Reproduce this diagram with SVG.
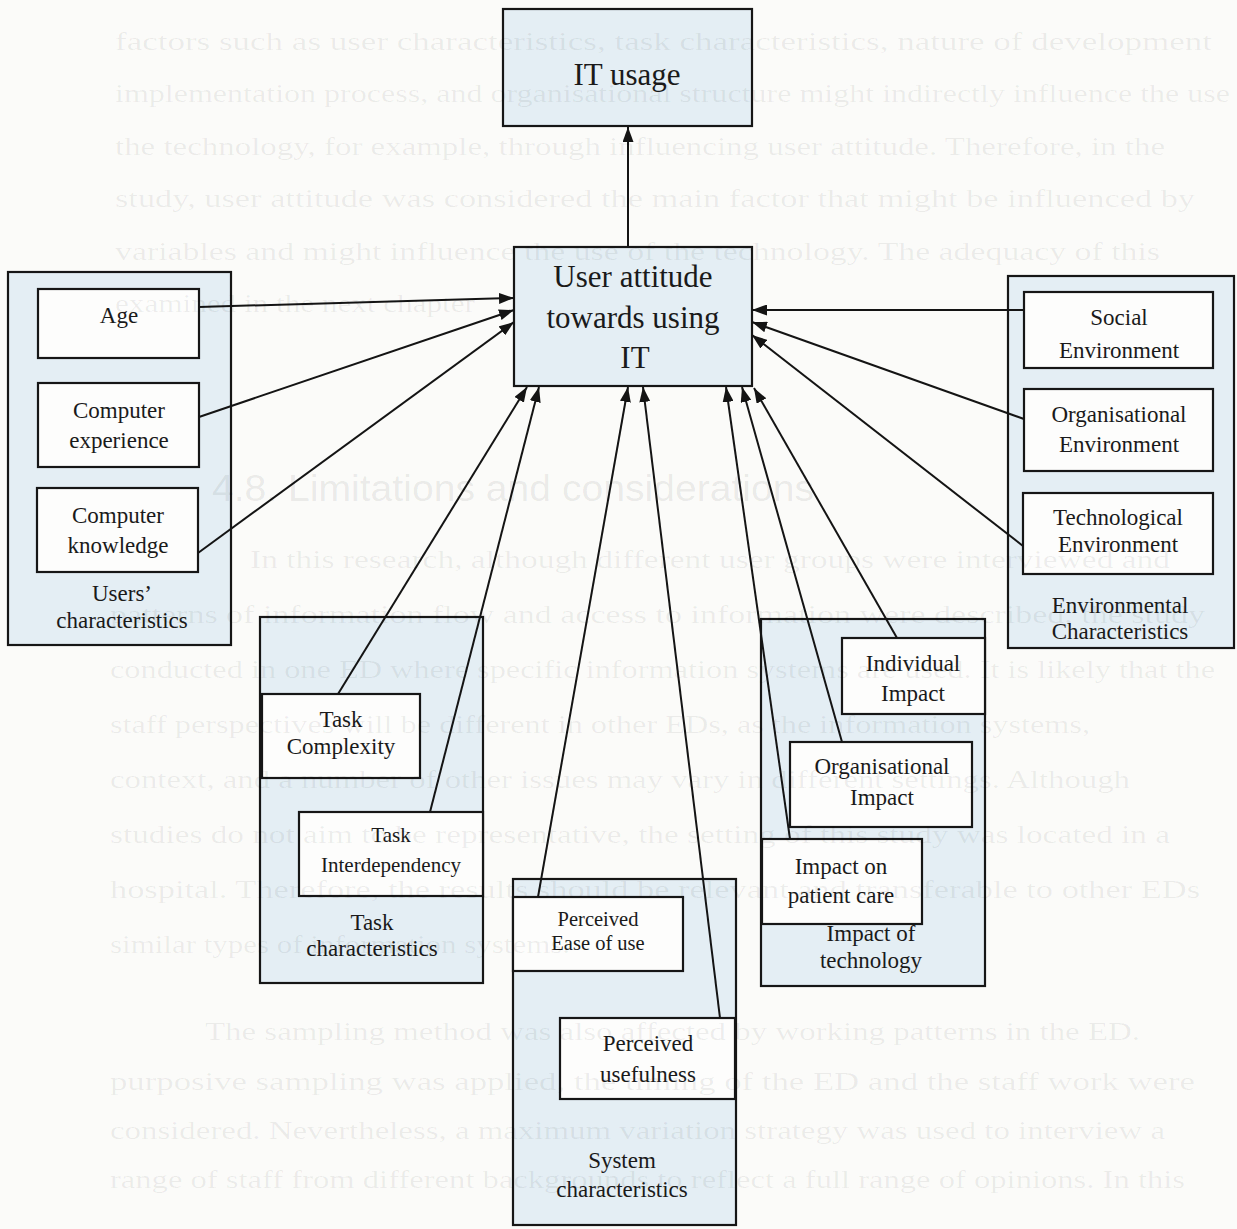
<svg xmlns="http://www.w3.org/2000/svg" width="1237" height="1229" viewBox="0 0 1237 1229">
<style>
.bg{fill:#fbfbf9}
.grp{fill:#e4eef4;stroke:#161616;stroke-width:2.2}
.box{fill:#fdfdfc;stroke:#161616;stroke-width:2.2}
.bbox{fill:#e4eef4;stroke:#161616;stroke-width:2.2}
.t{font-family:"Liberation Serif","Times New Roman",serif;font-size:23px;fill:#1a1a1a;text-anchor:middle}
.big{font-size:31px}
.sm{font-size:20.5px}
.tid{font-size:21px}
.con{stroke:#141414;stroke-width:2;fill:none;marker-end:url(#ah)}
.ghost{font-family:"Liberation Serif","Times New Roman",serif;font-size:25px;fill:#000;fill-opacity:0.065}
.ghead{font-family:"Liberation Sans",Arial,sans-serif;font-size:36px;fill:#000;fill-opacity:0.08}
</style>
<defs>
<marker id="ah" markerUnits="userSpaceOnUse" markerWidth="15" markerHeight="11" refX="15" refY="5.5" orient="auto">
<path d="M0,0 L15,5.5 L0,11 z" fill="#141414"/>
</marker>
</defs>
<rect class="bg" x="0" y="0" width="1237" height="1229"/>

<g id="users-characteristics">
<rect class="grp" x="8" y="272" width="223" height="373"/>
<text class="t" x="122" y="601">Users’</text>
<text class="t" x="122" y="628">characteristics</text>
</g>
<g id="age"><rect class="box" x="38" y="289" width="161" height="69"/><text class="t" x="119" y="323">Age</text></g>
<g id="computer-experience"><rect class="box" x="38" y="383" width="161" height="84"/><text class="t" x="119" y="418">Computer</text><text class="t" x="119" y="448">experience</text></g>
<g id="computer-knowledge"><rect class="box" x="37" y="488" width="161" height="84"/><text class="t" x="118" y="523">Computer</text><text class="t" x="118" y="553">knowledge</text></g>

<g id="environmental-characteristics">
<rect class="grp" x="1008" y="276" width="226" height="372"/>
<text class="t" x="1120" y="613">Environmental</text>
<text class="t" x="1120" y="639">Characteristics</text>
</g>
<g id="social-environment"><rect class="box" x="1024" y="292" width="189" height="76"/><text class="t" x="1119" y="325">Social</text><text class="t" x="1119" y="358">Environment</text></g>
<g id="organisational-environment"><rect class="box" x="1024" y="389" width="189" height="82"/><text class="t" x="1119" y="422">Organisational</text><text class="t" x="1119" y="452">Environment</text></g>
<g id="technological-environment"><rect class="box" x="1023" y="493" width="190" height="81"/><text class="t" x="1118" y="525">Technological</text><text class="t" x="1118" y="552">Environment</text></g>

<g id="task-characteristics">
<rect class="grp" x="260" y="617" width="223" height="366"/>
<text class="t" x="372" y="930">Task</text>
<text class="t" x="372" y="956">characteristics</text>
</g>
<g id="task-complexity"><rect class="box" x="262" y="694" width="158" height="84"/><text class="t" x="341" y="727">Task</text><text class="t" x="341" y="754">Complexity</text></g>
<g id="task-interdependency"><rect class="box" x="299" y="812" width="184" height="84"/><text class="t tid" x="391" y="842">Task</text><text class="t tid" x="391" y="872">Interdependency</text></g>

<g id="system-characteristics">
<rect class="grp" x="513" y="879" width="223" height="346"/>
<text class="t" x="622" y="1168">System</text>
<text class="t" x="622" y="1197">characteristics</text>
</g>
<g id="perceived-ease-of-use"><rect class="box" x="513" y="897" width="170" height="74"/><text class="t sm" x="598" y="926">Perceived</text><text class="t sm" x="598" y="950">Ease of use</text></g>
<g id="perceived-usefulness"><rect class="box" x="560" y="1018" width="175" height="81"/><text class="t" x="648" y="1051">Perceived</text><text class="t" x="648" y="1082">usefulness</text></g>

<g id="impact-of-technology">
<rect class="grp" x="761" y="619" width="224" height="367"/>
<text class="t" x="871" y="941">Impact of</text>
<text class="t" x="871" y="968">technology</text>
</g>
<g id="individual-impact"><rect class="box" x="842" y="638" width="143" height="76"/><text class="t" x="913" y="671">Individual</text><text class="t" x="913" y="701">Impact</text></g>
<g id="organisational-impact"><rect class="box" x="790" y="742" width="182" height="85"/><text class="t" x="882" y="774">Organisational</text><text class="t" x="882" y="805">Impact</text></g>
<g id="impact-on-patient-care"><rect class="box" x="762" y="839" width="160" height="85"/><text class="t" x="841" y="874">Impact on</text><text class="t" x="841" y="903">patient care</text></g>

<g id="it-usage"><rect class="bbox" x="503" y="9" width="249" height="117"/><text class="t big" x="627" y="85">IT usage</text></g>
<g id="user-attitude"><rect class="bbox" x="514" y="247" width="238" height="139"/><text class="t big" x="633" y="287">User attitude</text><text class="t big" x="633" y="328">towards using</text><text class="t big" x="635" y="368">IT</text></g>

<g id="connectors">
<line class="con" x1="628" y1="247" x2="628" y2="127"/>
<line class="con" x1="199" y1="307" x2="514" y2="298"/>
<line class="con" x1="199" y1="417" x2="514" y2="310"/>
<line class="con" x1="198" y1="553" x2="514" y2="322"/>
<line class="con" x1="1024" y1="310" x2="752" y2="310"/>
<line class="con" x1="1024" y1="419" x2="752" y2="322"/>
<line class="con" x1="1023" y1="546" x2="752" y2="335"/>
<line class="con" x1="338" y1="694" x2="527" y2="387"/>
<line class="con" x1="430" y1="812" x2="539" y2="387"/>
<line class="con" x1="538" y1="897" x2="628" y2="387"/>
<line class="con" x1="720" y1="1018" x2="643" y2="387"/>
<line class="con" x1="790" y1="839" x2="726" y2="387"/>
<line class="con" x1="842" y1="742" x2="742" y2="387"/>
<line class="con" x1="897" y1="638" x2="754" y2="388"/>
</g>

<g id="page-bleed-through">
<text class="ghost" x="115" y="50" textLength="1097" lengthAdjust="spacingAndGlyphs">factors such as user characteristics, task characteristics, nature of development</text>
<text class="ghost" x="115" y="102" textLength="1115" lengthAdjust="spacingAndGlyphs">implementation process, and organisational structure might indirectly influence the use</text>
<text class="ghost" x="115" y="155" textLength="1050" lengthAdjust="spacingAndGlyphs">the technology, for example, through influencing user attitude.  Therefore, in the</text>
<text class="ghost" x="115" y="207" textLength="1080" lengthAdjust="spacingAndGlyphs">study, user attitude was considered the main factor that might be influenced by</text>
<text class="ghost" x="115" y="260" textLength="1045" lengthAdjust="spacingAndGlyphs">variables and might influence the use of the technology. The adequacy of this</text>
<text class="ghost" x="115" y="312" textLength="360" lengthAdjust="spacingAndGlyphs">examined in the next chapter</text>
<text class="ghead" x="212" y="501" textLength="602" lengthAdjust="spacingAndGlyphs">4.8. Limitations and considerations</text>
<text class="ghost" x="250" y="568" textLength="920" lengthAdjust="spacingAndGlyphs">In this research, although different user groups were interviewed and</text>
<text class="ghost" x="110" y="623" textLength="1095" lengthAdjust="spacingAndGlyphs">patterns of information flow and access to information were described, the study</text>
<text class="ghost" x="110" y="678" textLength="1105" lengthAdjust="spacingAndGlyphs">conducted in one ED where specific information systems are used.  It is likely that the</text>
<text class="ghost" x="110" y="733" textLength="980" lengthAdjust="spacingAndGlyphs">staff perspectives will be different in other EDs, as the information systems,</text>
<text class="ghost" x="110" y="788" textLength="1020" lengthAdjust="spacingAndGlyphs">context, and a number of other issues may vary in different settings.  Although</text>
<text class="ghost" x="110" y="843" textLength="1060" lengthAdjust="spacingAndGlyphs">studies do not aim to be representative, the setting of this study was located in a</text>
<text class="ghost" x="110" y="898" textLength="1090" lengthAdjust="spacingAndGlyphs">hospital.  Therefore, the results should be relevant and transferable to other EDs</text>
<text class="ghost" x="110" y="953" textLength="460" lengthAdjust="spacingAndGlyphs">similar types of information systems.</text>
<text class="ghost" x="205" y="1040" textLength="935" lengthAdjust="spacingAndGlyphs">The sampling method was also affected by working patterns in the ED.</text>
<text class="ghost" x="110" y="1090" textLength="1085" lengthAdjust="spacingAndGlyphs">purposive sampling was applied, the timing of the ED and the staff work were</text>
<text class="ghost" x="110" y="1139" textLength="1055" lengthAdjust="spacingAndGlyphs">considered.  Nevertheless, a maximum variation strategy was used to interview a</text>
<text class="ghost" x="110" y="1188" textLength="1075" lengthAdjust="spacingAndGlyphs">range of staff from different backgrounds to reflect a full range of opinions.  In this</text>
</g>
</svg>
